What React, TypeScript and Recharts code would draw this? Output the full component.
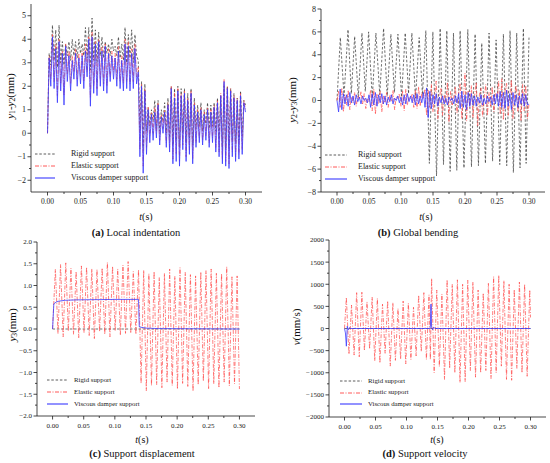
import React from 'react';
import { LineChart, Line, XAxis, YAxis } from 'recharts';

const SERIF = '"Liberation Serif", "Times New Roman", serif';
const AXIS = '#1a1a1a';
const COL_RIGID = '#333333';
const COL_ELASTIC = '#ff4646';
const COL_VISC = '#3a3aff';

const SERIES_NAMES = ['Rigid support', 'Elastic support', 'Viscous damper support'];

const X_DOMAIN = [-0.025, 0.325];
const X_MAJOR = [0, 0.05, 0.1, 0.15, 0.2, 0.25, 0.3];
const X_MINOR = [0.025, 0.075, 0.125, 0.175, 0.225, 0.275];

const A_Y_MAJOR = [-2, -1, 0, 1, 2, 3, 4, 5];
const A_Y_MINOR = [-1.5, -0.5, 0.5, 1.5, 2.5, 3.5, 4.5];
const B_Y_MAJOR = [-8, -6, -4, -2, 0, 2, 4, 6, 8];
const B_Y_MINOR = [-7, -5, -3, -1, 1, 3, 5, 7];
const C_Y_MAJOR = [-2, -1.5, -1, -0.5, 0, 0.5, 1, 1.5, 2];
const C_Y_MINOR = [-1.75, -1.25, -0.75, -0.25, 0.25, 0.75, 1.25, 1.75];
const D_Y_MAJOR = [-2000, -1500, -1000, -500, 0, 500, 1000, 1500, 2000];
const D_Y_MINOR = [-1750, -1250, -750, -250, 250, 750, 1250, 1750];

// sampling step of the uniformly sampled series in panels (a) and (b)
const AB_STEP = 0.0025;

// (a) Local indentation y1-y2 (mm)
const A_RIGID = [
  0, 3.4, 2.9, 4.6, 3.1, 4.4, 2.8, 4.6, 3.0, 3.9,
  2.9, 3.8, 3.3, 3.9, 3.1, 4.0, 3.3, 3.9, 3.2, 4.0,
  3.4, 3.8, 3.3, 4.5, 3.2, 4.5, 2.7, 4.9, 3.1, 4.4,
  3.0, 4.3, 3.3, 4.1, 3.2, 3.9, 3.4, 3.8, 3.3, 4.0,
  3.5, 3.7, 3.3, 4.1, 3.2, 3.8, 3.1, 4.5, 3.0, 4.2,
  3.2, 4.4, 3.0, 4.2, 3.3, 3.1, 0.2, 2.2, -0.6, 2.1,
  0.1, 1.1, 0.3, 1.0, 0.5, 1.4, 0.2, 1.4, 0.1, 1.0,
  0.5, 1.3, 0.0, 1.5, -0.2, 2.0, -0.5, 1.9, -0.3, 2.0,
  -0.6, 1.9, 0.0, 1.9, -0.4, 1.7, -0.2, 1.9, -0.5, 1.5,
  0.2, 1.2, 0.3, 1.3, 0.1, 1.0, 0.4, 1.3, 0.2, 1.2,
  0.3, 1.3, 0.1, 1.5, -0.2, 1.6, -0.6, 2.0, -0.7, 2.0,
  -0.5, 1.9, -0.3, 1.7, -0.4, 1.5, -0.3, 1.8, -0.1, 1.4,
  1.2,
];
const A_ELASTIC = [
  0, 3.3, 2.3, 4.2, 2.2, 3.8, 1.6, 4.0, 2.1, 3.5,
  1.6, 3.8, 2.5, 3.5, 2.1, 3.3, 2.6, 3.6, 2.3, 3.4,
  2.4, 3.5, 2.2, 3.8, 2.6, 4.1, 1.5, 4.3, 2.0, 3.9,
  1.9, 4.0, 2.3, 3.7, 2.1, 3.8, 2.0, 3.6, 2.4, 3.5,
  2.6, 3.4, 2.3, 3.7, 2.2, 3.3, 2.1, 4.0, 2.2, 3.9,
  2.1, 3.6, 2.2, 3.8, 2.4, 2.8, -0.7, 2.1, -1.4, 1.9,
  -0.6, 1.1, -0.1, 0.9, 0.0, 1.1, 0.0, 1.3, -0.3, 0.8,
  0.2, 1.0, -0.4, 1.3, -0.6, 2.0, -1.1, 1.7, -0.9, 1.9,
  -1.2, 1.7, -0.5, 1.8, -1.0, 1.5, -0.7, 1.8, -1.1, 1.3,
  -0.4, 1.0, -0.2, 1.1, -0.3, 0.9, -0.1, 1.1, -0.4, 1.0,
  -0.2, 1.2, -0.6, 1.4, -0.8, 1.7, -1.1, 2.3, -1.2, 2.0,
  -1.3, 1.9, -0.8, 1.6, -1.0, 1.5, -0.9, 1.7, -0.7, 1.4,
  1.0,
];
const A_VISC = [
  0, 3.2, 2.0, 4.1, 1.9, 3.6, 1.3, 3.9, 1.8, 3.4,
  1.2, 3.7, 2.2, 3.3, 1.8, 3.1, 2.3, 3.4, 2.0, 3.2,
  2.1, 3.3, 1.9, 3.5, 2.4, 4.0, 1.15, 4.1, 1.7, 3.8,
  1.6, 3.9, 2.0, 3.5, 1.8, 3.7, 1.7, 3.4, 2.2, 3.3,
  2.3, 3.2, 2.0, 3.5, 1.9, 3.1, 1.8, 3.8, 1.9, 3.7,
  1.8, 3.4, 1.9, 3.6, 2.1, 2.6, -1.0, 2.0, -1.7, 1.8,
  -0.9, 1.0, -0.4, 0.8, -0.3, 0.9, -0.2, 1.2, -0.5, 0.7,
  0.0, 0.9, -0.6, 1.2, -0.8, 1.9, -1.3, 1.5, -1.2, 1.8,
  -1.4, 1.6, -0.7, 1.7, -1.2, 1.4, -0.9, 1.7, -1.3, 1.2,
  -0.6, 0.9, -0.4, 1.0, -0.5, 0.8, -0.3, 1.0, -0.6, 0.9,
  -0.4, 1.1, -0.8, 1.3, -1.0, 1.6, -1.3, 2.2, -1.4, 1.9,
  -1.5, 1.8, -1.0, 1.5, -1.2, 1.4, -1.1, 1.6, -0.9, 1.3,
  0.9,
];

// (b) Global bending y2-y3 (mm)
const B_RIGID: number[][] = [
  [0, 0], [0.0052, 5.5], [0.011, 0.4], [0.0172, 6.2], [0.0224, 0.6], [0.0276, 5.6],
  [0.0333, 0.3], [0.039, 5.9], [0.0442, 0.8], [0.0494, 6.0], [0.0551, 0.2], [0.0608, 5.9],
  [0.0668, 0.5], [0.0728, 6.3], [0.0785, 0.4], [0.0842, 5.8], [0.0897, 0.7], [0.0952, 5.8],
  [0.1009, 0.3], [0.1066, 5.9], [0.1118, 0.6], [0.117, 5.9], [0.1227, 0.2], [0.1284, 5.5],
  [0.1336, 0.5], [0.1388, 6.1], [0.1443, -5.5], [0.1498, 6.0], [0.1555, -6.6], [0.1612, 6.3],
  [0.1664, -5.6], [0.1716, 6.1], [0.1768, -6.2], [0.182, 5.9], [0.1872, -6.1], [0.1924, 6.1],
  [0.1984, -5.9], [0.2044, 6.2], [0.2101, -5.8], [0.2158, 5.8], [0.221, -5.7], [0.2262, 5.0],
  [0.2319, -5.5], [0.2376, 5.9], [0.2431, -5.3], [0.2486, 5.3], [0.2543, -5.6], [0.26, 5.8],
  [0.2652, -5.7], [0.2704, 6.1], [0.2756, -6.3], [0.2808, 5.9], [0.286, -5.9], [0.2912, 6.3],
  [0.2955, -5.5], [0.3, 5.5],
];
const B_ELASTIC = [
  0, 0.8, -0.6, 1.1, -1.0, 0.5, -0.4, 0.9, -0.8, 0.3,
  -0.2, 0.7, -0.5, 0.4, 0.1, 0.8, -0.3, 0.6, -0.7, 0.2,
  -0.1, 0.9, -0.9, 1.0, -1.2, 0.6, -0.3, 0.8, -1.0, 0.4,
  -0.2, 0.7, -0.6, 0.5, -0.1, 0.9, -0.8, 0.3, 0.2, 0.6,
  -0.5, 0.8, -0.9, 1.0, -0.4, 0.3, 0.1, 0.6, -0.6, 0.9,
  -0.7, 1.2, -0.5, 0.7, 0.2, 1.0, -1.3, 0.9, -0.6, 1.4,
  -1.0, 0.4, 1.7, -1.6, 0.2, 1.1, -1.3, 0.5, -0.2, 1.6,
  -1.9, 0.8, -0.4, 0.3, 1.2, -1.1, 0.6, 1.5, -1.6, 0.2,
  2.4, -1.8, 0.9, -0.6, 1.3, -1.5, 0.4, 1.6, -2.2, 0.5,
  1.1, -1.4, 0.3, 1.4, -1.3, 0.7, -0.5, 1.2, -1.0, 0.6,
  0.2, 1.7, -1.2, 1.9, -1.7, 0.8, 1.5, -1.3, 0.4, 1.8,
  -1.6, 0.6, 1.3, -1.0, 0.9, -1.8, 1.4, -0.9, 1.3, -1.6,
  -0.3,
];
const B_VISC = [
  0, -1.0, 1.0, -0.8, 0.6, -0.3, 0.5, -0.5, 0.7, -0.2,
  0.4, -0.4, 0.5, -0.1, 0.3, -0.3, 0.4, 0.0, 0.2, -0.2,
  0.5, -0.6, 0.6, -0.4, 0.7, -0.5, 0.5, -0.2, 0.6, -0.3,
  0.4, -0.4, 0.3, -0.1, 0.5, -0.3, 0.2, 0.0, 0.4, -0.2,
  0.3, -0.4, 0.5, -0.3, 0.6, -0.1, 0.4, -0.2, 0.5, -0.4,
  0.6, -0.3, 0.4, -0.2, 0.7, -0.6, 1.1, -1.5, 0.8, -0.7,
  0.5, -0.3, 0.6, -0.5, 0.3, -0.2, 0.4, -0.3, 0.2, -0.4,
  0.3, 0.0, 0.2, -0.3, 0.4, -0.2, 0.6, -0.7, 0.8, -0.6,
  0.5, -0.8, 0.7, -0.5, 0.6, -0.4, 0.4, -0.5, 0.3, -0.2,
  0.5, -0.4, 0.2, -0.3, 0.4, -0.1, 0.3, -0.4, 0.5, -0.3,
  0.6, -0.5, 0.8, -0.6, 0.7, -0.7, 0.9, -0.5, 0.6, -0.8,
  0.7, -0.4, 0.5, -0.6, 0.4, -0.3, 0.6, -0.5, 0.5, -0.4,
  -0.3,
];

// (c) Support displacement y3 (mm)
const C_RIGID: number[][] = [[0, 0], [0.3, 0]];
const C_ELASTIC: number[][] = [
  [0, 0],
  [0.0045, 1.37], [0.0087, -0.1], [0.0128, 1.48], [0.017, -0.18], [0.0212, 1.52], [0.0253, -0.05],
  [0.0295, 1.4], [0.0336, -0.12], [0.0378, 1.32], [0.042, -0.2], [0.0463, 1.45], [0.0505, -0.08],
  [0.0546, 1.42], [0.0588, -0.15], [0.063, 1.38], [0.0671, -0.22], [0.0713, 1.37], [0.0755, -0.06],
  [0.0796, 1.4], [0.0838, -0.12], [0.088, 1.53], [0.0921, -0.18], [0.0963, 1.44], [0.1005, -0.04],
  [0.1046, 1.38], [0.1088, -0.14], [0.113, 1.47], [0.1171, -0.1], [0.1213, 1.55], [0.1255, -0.08],
  [0.1296, 1.32], [0.1338, -0.12], [0.138, 1.36], [0.1421, -1.25], [0.1463, 1.35], [0.1505, -1.42],
  [0.1546, 1.27], [0.1588, -1.3], [0.163, 1.32], [0.1671, -1.28], [0.1713, 1.18], [0.1755, -1.35],
  [0.1796, 1.28], [0.1838, -1.22], [0.188, 1.38], [0.1921, -1.3], [0.1963, 1.21], [0.2005, -1.38],
  [0.2046, 1.41], [0.2088, -1.25], [0.213, 1.3], [0.2171, -1.32], [0.2213, 1.25], [0.2255, -1.43],
  [0.2296, 1.22], [0.2338, -1.28], [0.238, 1.31], [0.2421, -1.2], [0.2463, 1.34], [0.2505, -1.37],
  [0.2546, 1.38], [0.2588, -1.26], [0.263, 1.28], [0.2671, -1.35], [0.2713, 1.27], [0.2755, -1.22],
  [0.2796, 1.43], [0.2838, -1.31], [0.288, 1.2], [0.2921, -1.26], [0.2963, 1.22], [0.3, -1.38],
];
const C_VISC: number[][] = [
  [0, 0], [0.002, 0.58], [0.006, 0.62], [0.01, 0.64], [0.02, 0.66], [0.04, 0.67],
  [0.1, 0.68], [0.138, 0.68], [0.1392, 0.05], [0.142, 0.04], [0.15, 0.02], [0.17, 0.01], [0.3, 0.0],
];

// (d) Support velocity v (mm/s)
const D_RIGID: number[][] = [[0, 0], [0.3, 0]];
const D_ELASTIC: number[][] = [
  [0, 0],
  [0.003, 700], [0.0072, -580], [0.0113, 530], [0.0155, -600], [0.0196, 810], [0.0238, -640],
  [0.028, 820], [0.0321, -500], [0.0363, 600], [0.0405, -460], [0.0446, 710], [0.0488, -730],
  [0.053, 680], [0.0571, -780], [0.0613, 550], [0.0655, -560], [0.0696, 620], [0.0738, -850],
  [0.078, 580], [0.0821, -720], [0.0863, 450], [0.0905, -690], [0.0946, 620], [0.0988, -800],
  [0.103, 570], [0.1071, -700], [0.1113, 480], [0.1155, -620], [0.1196, 750], [0.1238, -520],
  [0.128, 810], [0.1321, -700], [0.1363, 760], [0.1385, -700], [0.1405, 1130], [0.1446, -1000],
  [0.1488, 870], [0.153, -860], [0.1571, 780], [0.1613, -1150], [0.1655, 1100], [0.1696, -900],
  [0.1738, 1000], [0.178, -1000], [0.1821, 1100], [0.1863, -1220], [0.1905, 1000], [0.1946, -1200],
  [0.1988, 1090], [0.203, -950], [0.2071, 1050], [0.2113, -1100], [0.2155, 870], [0.2196, -1000],
  [0.2238, 800], [0.228, -950], [0.2321, 1020], [0.2363, -1130], [0.2405, 1170], [0.2446, -1000],
  [0.2488, 1200], [0.253, -850], [0.2571, 1080], [0.2613, -1150], [0.2655, 1000], [0.2696, -1170],
  [0.2738, 880], [0.278, -900], [0.2821, 1050], [0.2863, -1000], [0.2905, 1000], [0.2946, -1080],
  [0.2988, 870], [0.3, 250],
];
const D_VISC: number[][] = [
  [0, 0], [0.0015, -100], [0.003, -400], [0.0045, 50], [0.006, -30], [0.008, 20], [0.01, 0],
  [0.138, 0], [0.1385, 50], [0.1395, 550], [0.1405, 20], [0.142, -30], [0.144, 30], [0.146, 0], [0.3, 0],
];

const uniformPts = (vals: number[], step: number) =>
  vals.map((v, i) => ({ t: Math.round(i * step * 1e5) / 1e5, v }));
const pairPts = (pairs: number[][]) => pairs.map(([t, v]) => ({ t, v }));

const TICK_SIZE = 4;
const TICK_MARGIN = 2;

const signed = (v: number, d: number) => (v < 0 ? '\u2212' : '') + Math.abs(v).toFixed(d);
const isIn = (arr: number[], v: number) => arr.some((m) => Math.abs(m - v) < 1e-9);

function makeYTick(majors: number[], digits: number, fs: number) {
  return (p: any) => {
    const v = p.payload.value;
    const major = isIn(majors, v);
    const ax = p.x + TICK_SIZE + TICK_MARGIN;
    return (
      <g>
        <line x1={ax} x2={ax - (major ? 3.5 : 2)} y1={p.y} y2={p.y} stroke={AXIS} strokeWidth={0.8} />
        {major && (
          <text x={ax - 5} y={p.y} dy="0.34em" textAnchor="end" fontSize={fs} fontFamily={SERIF} fill="#222">
            {signed(v, digits)}
          </text>
        )}
      </g>
    );
  };
}

function makeXTick(fs: number) {
  return (p: any) => {
    const v = p.payload.value;
    const major = isIn(X_MAJOR, v);
    const ay = p.y - TICK_SIZE - TICK_MARGIN;
    return (
      <g>
        <line x1={p.x} x2={p.x} y1={ay} y2={ay + (major ? 3.5 : 2)} stroke={AXIS} strokeWidth={0.8} />
        {major && (
          <text x={p.x} y={ay + 12} textAnchor="middle" fontSize={fs} fontFamily={SERIF} fill="#222">
            {v.toFixed(2)}
          </text>
        )}
      </g>
    );
  };
}

type Series = { data: { t: number; v: number }[]; color: string; dash?: string; width: number };

function Panel(props: {
  left: number; top: number; margin: any; yDomain: number[]; yMajor: number[]; yMinor: number[];
  yDigits: number; yFs: number; xFs: number; series: Series[];
}) {
  const { left, top, margin, yDomain, yMajor, yMinor, yDigits, yFs, xFs, series } = props;
  const xTicks = [...X_MAJOR, ...X_MINOR].sort((a, b) => a - b);
  const yTicks = [...yMajor, ...yMinor].sort((a, b) => a - b);
  const axisLine = { stroke: AXIS, strokeWidth: 0.8 };
  return (
    <div style={{ position: 'absolute', left, top }}>
      <LineChart width={275} height={215} margin={margin}>
        <XAxis
          dataKey="t" type="number" domain={X_DOMAIN} ticks={xTicks} interval={0}
          tick={makeXTick(xFs)} tickLine={false} tickSize={TICK_SIZE} tickMargin={TICK_MARGIN}
          height={20} axisLine={axisLine} allowDataOverflow
        />
        <XAxis xAxisId="top" orientation="top" type="number" domain={X_DOMAIN} tick={false} tickLine={false} height={0} axisLine={axisLine} />
        <YAxis
          type="number" domain={yDomain} ticks={yTicks} interval={0}
          tick={makeYTick(yMajor, yDigits, yFs)} tickLine={false} tickSize={TICK_SIZE} tickMargin={TICK_MARGIN}
          width={30} axisLine={axisLine} allowDataOverflow
        />
        <YAxis yAxisId="right" orientation="right" type="number" domain={yDomain} tick={false} tickLine={false} width={0} axisLine={axisLine} />
        {series.map((s, i) => (
          <Line
            key={i} data={s.data} dataKey="v" type="linear" stroke={s.color} strokeWidth={s.width}
            strokeDasharray={s.dash} dot={false} activeDot={false} isAnimationActive={false}
          />
        ))}
      </LineChart>
    </div>
  );
}

function LegendBox({ left, top, lineW, textX, gap, fs }: { left: number; top: number; lineW: number; textX: number; gap: number; fs: number }) {
  const styles = [
    { color: COL_RIGID, dash: '2.5 1.8', w: 0.8 },
    { color: COL_ELASTIC, dash: '4 1.5 1 1.5', w: 0.9 },
    { color: COL_VISC, dash: undefined, w: 1.1 },
  ];
  return (
    <div style={{ position: 'absolute', left, top }}>
      {SERIES_NAMES.map((name, i) => (
        <div key={name} style={{ position: 'absolute', left: 0, top: i * gap, whiteSpace: 'nowrap', height: 10 }}>
          <svg width={lineW} height={6} style={{ position: 'absolute', left: 0, top: -3 }}>
            <line x1={0} x2={lineW} y1={3} y2={3} stroke={styles[i].color} strokeWidth={styles[i].w} strokeDasharray={styles[i].dash} />
          </svg>
          <span style={{ position: 'absolute', left: textX, top: -fs * 0.62, fontSize: fs, fontFamily: SERIF, color: '#222', lineHeight: 1.2 }}>
            {name}
          </span>
        </div>
      ))}
    </div>
  );
}

const txt = (x: number, y: number, content: React.ReactNode, fs: number, rotate = false) => (
  <div
    style={{
      position: 'absolute', left: x, top: y, fontSize: fs, fontFamily: SERIF, color: '#111', whiteSpace: 'nowrap',
      transform: `translate(-50%, -50%)${rotate ? ' rotate(-90deg)' : ''}`, lineHeight: 1,
    }}
  >
    {content}
  </div>
);

const sub = (s: string) => <sub style={{ fontSize: '70%', verticalAlign: '-0.25em', lineHeight: 0 }}>{s}</sub>;

function mk(rigid: any[], elastic: any[], visc: any[]): Series[] {
  return [
    { data: rigid, color: COL_RIGID, dash: '2.5 1.8', width: 0.7 },
    { data: elastic, color: COL_ELASTIC, dash: '4 1.5 1 1.5', width: 0.7 },
    { data: visc, color: COL_VISC, width: 0.8 },
  ];
}

export default function App() {
  const aSeries = mk(uniformPts(A_RIGID, AB_STEP), uniformPts(A_ELASTIC, AB_STEP), uniformPts(A_VISC, AB_STEP));
  const bSeries = mk(pairPts(B_RIGID), uniformPts(B_ELASTIC, AB_STEP), uniformPts(B_VISC, AB_STEP));
  const cSeries = mk(pairPts(C_RIGID), pairPts(C_ELASTIC), pairPts(C_VISC));
  const dSeries = mk(pairPts(D_RIGID), pairPts(D_ELASTIC), pairPts(D_VISC));

  return (
    <div style={{ position: 'absolute', left: 0, top: 0, width: 550, height: 463, background: '#fff', overflow: 'hidden' }}>
      <Panel left={0} top={0} margin={{ top: 4, right: 13, left: 1, bottom: 3 }} yDomain={[-2.5, 5.5]}
        yMajor={A_Y_MAJOR} yMinor={A_Y_MINOR} yDigits={0} yFs={8} xFs={7.5} series={aSeries} />
      <Panel left={275} top={0} margin={{ top: 9, right: 5, left: 16, bottom: 3 }} yDomain={[-8, 8]}
        yMajor={B_Y_MAJOR} yMinor={B_Y_MINOR} yDigits={0} yFs={8} xFs={7.5} series={bSeries} />
      <Panel left={0} top={230} margin={{ top: 12, right: 20, left: 7, bottom: 9 }} yDomain={[-2, 2]}
        yMajor={C_Y_MAJOR} yMinor={C_Y_MINOR} yDigits={1} yFs={7} xFs={7} series={cSeries} />
      <Panel left={275} top={230} margin={{ top: 10, right: 4, left: 24, bottom: 8 }} yDomain={[-2000, 2000]}
        yMajor={D_Y_MAJOR} yMinor={D_Y_MINOR} yDigits={0} yFs={7} xFs={7} series={dSeries} />

      <LegendBox left={35} top={154} lineW={20} textX={36} gap={12} fs={8} />
      <LegendBox left={325} top={155} lineW={22} textX={33} gap={12} fs={8} />
      <LegendBox left={47} top={380} lineW={21} textX={27} gap={12} fs={6.8} />
      <LegendBox left={340} top={381} lineW={22} textX={28} gap={11.7} fs={6.8} />

      {txt(10, 96, <span><i>y</i>{sub('1')}-<i>y</i>{sub('2')}(mm)</span>, 11, true)}
      {txt(292, 100, <span><i>y</i>{sub('2')}-<i>y</i>{sub('3')}(mm)</span>, 11, true)}
      {txt(12, 325, <span><i>y</i>{sub('3')}(mm)</span>, 11, true)}
      {txt(296, 327, <span><i>v</i>(mm/s)</span>, 11, true)}

      {txt(146, 217, <span><i>t</i>(s)</span>, 10)}
      {txt(426, 217, <span><i>t</i>(s)</span>, 10)}
      {txt(142, 440, <span><i>t</i>(s)</span>, 10)}
      {txt(437, 440, <span><i>t</i>(s)</span>, 10)}

      {txt(136, 233, <span><b>(a)</b> Local indentation</span>, 10.5)}
      {txt(418, 233, <span><b>(b)</b> Global bending</span>, 10.5)}
      {txt(142, 454, <span><b>(c)</b> Support displacement</span>, 10.5)}
      {txt(425, 454, <span><b>(d)</b> Support velocity</span>, 10.5)}
    </div>
  );
}
